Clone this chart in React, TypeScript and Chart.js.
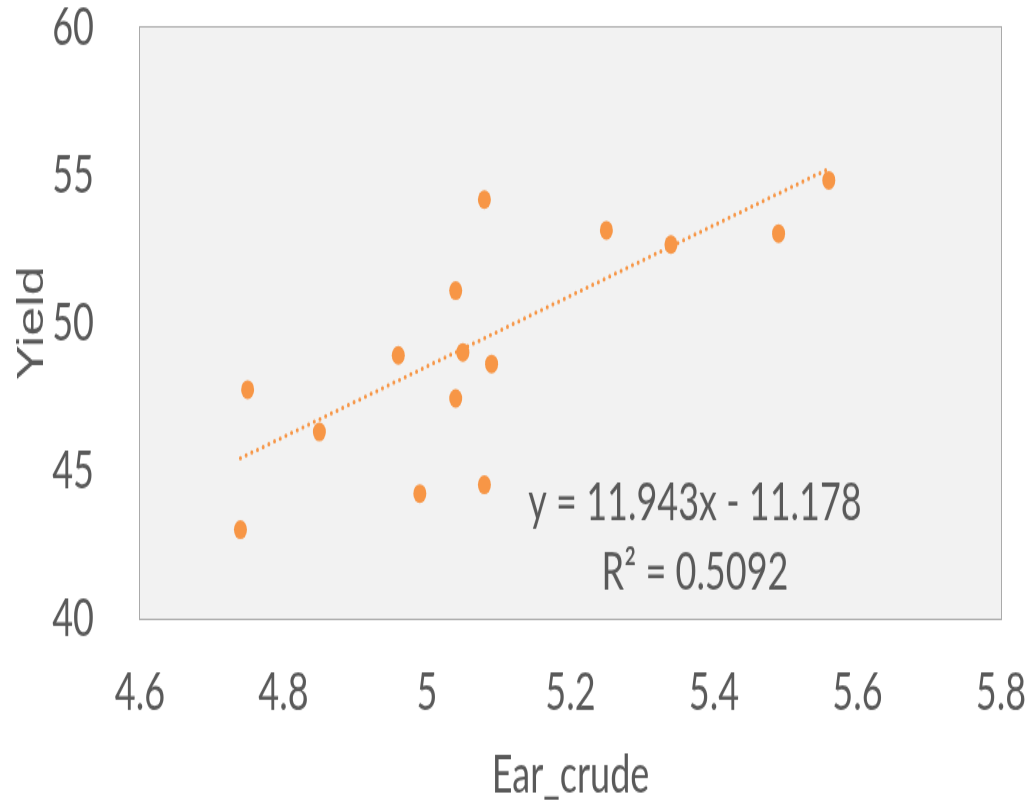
import React, { useEffect, useRef } from "react";
import { Chart, registerables } from "chart.js";

Chart.register(...registerables);

// Data
const EAR_CRUDE = [4.74, 4.75, 4.85, 4.96, 4.99, 5.04, 5.04, 5.05, 5.08, 5.08, 5.09, 5.25, 5.34, 5.49, 5.56];
const YIELD = [43.01, 47.75, 46.32, 48.91, 44.23, 51.1, 47.45, 49.01, 54.18, 44.53, 48.62, 53.14, 52.66, 53.03, 54.83];

// Linear trendline (as printed on the chart)
const TREND_SLOPE = 11.943;
const TREND_INTERCEPT = -11.178;
const TREND_TEXT = ["y = 11.943x - 11.178", "R\u00B2 = 0.5092"];

const X_TITLE = "Ear_crude";
const Y_TITLE = "Yield";

const CANVAS_W = 1030;
const CANVAS_H = 557;
const STRETCH = 807 / CANVAS_H;

const ORANGE = "#F79646";
const TEXT = "#595959";
const FONT = "Lato, 'Open Sans', sans-serif";

const plotBg = {
  id: "plotBg",
  beforeDraw(chart: any) {
    const { ctx, chartArea } = chart;
    const { left, top, right, bottom } = chartArea;
    ctx.save();
    ctx.fillStyle = "#f2f2f2";
    ctx.fillRect(left, top, right - left, bottom - top);
    ctx.strokeStyle = "#aaaaaa";
    ctx.lineWidth = 1;
    ctx.strokeRect(Math.round(left) - 0.5, Math.round(top) - 0.5, right - left + 1, bottom - top + 1);
    ctx.restore();
  },
};

const trendLabel = {
  id: "trendLabel",
  afterDatasetsDraw(chart: any) {
    const { ctx, chartArea } = chart;
    const w = chartArea.right - chartArea.left;
    const h = chartArea.bottom - chartArea.top;
    const cx = chartArea.left + w * 0.6446;
    ctx.save();
    ctx.fillStyle = TEXT;
    ctx.font = `36px ${FONT}`;
    ctx.textAlign = "center";
    ctx.textBaseline = "alphabetic";
    ctx.fillText(TREND_TEXT[0], cx, chartArea.top + h * 0.833);
    ctx.fillText(TREND_TEXT[1], cx, chartArea.top + h * 0.95);
    ctx.restore();
  },
};

function clearPadding(scale: any) {
  scale.paddingTop = 0;
  scale.paddingBottom = 0;
  scale.paddingLeft = 0;
  scale.paddingRight = 0;
}

export default function App() {
  const ref = useRef<HTMLCanvasElement | null>(null);

  useEffect(() => {
    if (!ref.current) return;
    const points = EAR_CRUDE.map((x, i) => ({ x, y: YIELD[i] }));
    const xMin = Math.min(...EAR_CRUDE);
    const xMax = Math.max(...EAR_CRUDE);
    const trend = [xMin, xMax].map((x) => ({ x, y: TREND_SLOPE * x + TREND_INTERCEPT }));

    const chart = new Chart(ref.current, {
      type: "scatter",
      data: {
        datasets: [
          {
            type: "line",
            data: trend,
            borderColor: ORANGE,
            borderWidth: 3,
            borderDash: [0, 6],
            borderCapStyle: "round",
            pointRadius: 0,
            fill: false,
            order: 2,
          } as any,
          {
            data: points,
            backgroundColor: ORANGE,
            borderWidth: 0,
            pointRadius: 6.5,
            order: 1,
          },
        ],
      },
      options: {
        responsive: false,
        animation: false,
        devicePixelRatio: 1,
        layout: { padding: { top: 19, right: 29, bottom: 0, left: 0 } },
        plugins: { legend: { display: false }, tooltip: { enabled: false } },
        scales: {
          x: {
            type: "linear",
            min: 4.6,
            max: 5.8,
            grid: { display: false },
            border: { display: false },
            ticks: {
              stepSize: 0.2,
              padding: 25,
              color: TEXT,
              font: { family: FONT, size: 36, lineHeight: 1 },
              callback: (v: any) => String(Math.round(Number(v) * 10) / 10),
            },
            title: {
              display: true,
              text: X_TITLE,
              color: TEXT,
              font: { family: FONT, size: 36, lineHeight: 1.2 },
              padding: { top: 0, bottom: 0 },
            },
            afterFit(scale: any) {
              scale.height = 130;
              clearPadding(scale);
            },
          },
          y: {
            type: "linear",
            min: 40,
            max: 60,
            grid: { display: false },
            border: { display: false },
            ticks: {
              stepSize: 5,
              padding: 38,
              color: TEXT,
              font: { family: FONT, size: 36, lineHeight: 1 },
            },
            title: {
              display: true,
              text: Y_TITLE,
              color: TEXT,
              font: { family: "'Liberation Sans', Arial, sans-serif", size: 36, lineHeight: 1.2 },
              padding: { top: 11, bottom: 0 },
            },
            afterFit(scale: any) {
              scale.width = 140;
              clearPadding(scale);
            },
          },
        },
      },
      plugins: [plotBg, trendLabel],
    });
    return () => chart.destroy();
  }, []);

  return (
    <div style={{ position: "absolute", left: 0, top: 0, width: 1030, height: 807, overflow: "hidden", background: "#ffffff" }}>
      <canvas
        ref={ref}
        width={CANVAS_W}
        height={CANVAS_H}
        style={{
          display: "block",
          width: `${CANVAS_W}px`,
          height: `${CANVAS_H}px`,
          transform: `scaleY(${STRETCH})`,
          transformOrigin: "0 0",
        }}
      />
    </div>
  );
}
